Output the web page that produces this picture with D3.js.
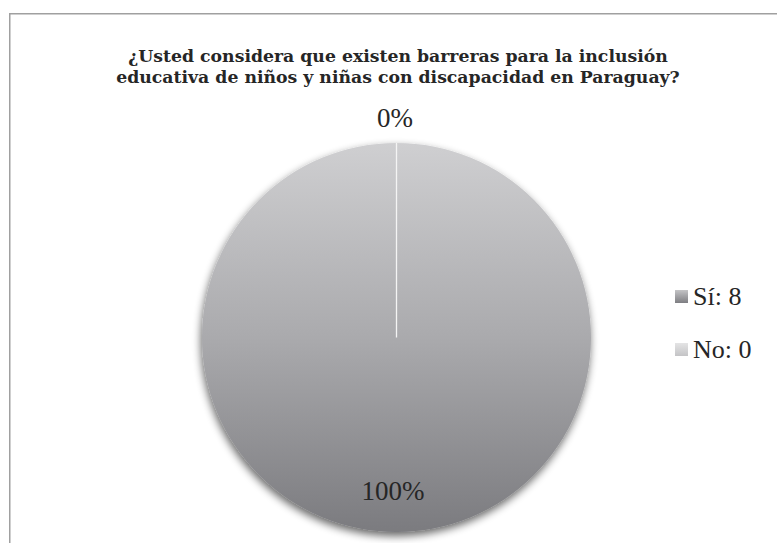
<!doctype html>
<html>
<head>
    <style>
        body { margin: 0; background: #fff; }
        svg text { font-family: "Liberation Serif", "DejaVu Serif", serif; fill: #262626; }
        .title { font-family: "DejaVu Serif", serif; font-weight: bold; }
    </style>
    <script src="https://d3js.org/d3.v7.min.js"></script>
</head>
<body>
    <svg width="777" height="543"></svg>
    <script>
        var categories = ["Sí", "No"];
        var values = [8, 0];
        var titleLines = ["¿Usted considera que existen barreras para la inclusión",
                          "educativa de niños y niñas con discapacidad en Paraguay?"];

        var svg = d3.select("svg"),
            cx = 396.5,
            cy = 337.5,
            radius = 194.5;

        var defs = svg.append("defs");

        // gradient in the pie group's coordinates (centre at 0,0)
        var grad = defs.append("linearGradient")
            .attr("id", "pieGrad")
            .attr("gradientUnits", "userSpaceOnUse")
            .attr("x1", 0).attr("y1", -radius)
            .attr("x2", 0).attr("y2", radius);
        grad.append("stop").attr("offset", "0%").attr("stop-color", "#cfcfd1");
        grad.append("stop").attr("offset", "50%").attr("stop-color", "#aaaaad");
        grad.append("stop").attr("offset", "100%").attr("stop-color", "#7b7b7f");

        var legGrad1 = defs.append("linearGradient")
            .attr("id", "leg1").attr("x1", 0).attr("y1", 0).attr("x2", 0).attr("y2", 1);
        legGrad1.append("stop").attr("offset", "0%").attr("stop-color", "#c4c4c6");
        legGrad1.append("stop").attr("offset", "100%").attr("stop-color", "#7e7e82");

        var legGrad2 = defs.append("linearGradient")
            .attr("id", "leg2").attr("x1", 0).attr("y1", 0).attr("x2", 0).attr("y2", 1);
        legGrad2.append("stop").attr("offset", "0%").attr("stop-color", "#e4e4e5");
        legGrad2.append("stop").attr("offset", "100%").attr("stop-color", "#c4c4c6");

        var shadow = defs.append("filter")
            .attr("id", "shadow")
            .attr("x", "-20%").attr("y", "-20%")
            .attr("width", "140%").attr("height", "140%");
        shadow.append("feGaussianBlur").attr("in", "SourceAlpha").attr("stdDeviation", 4);
        shadow.append("feOffset").attr("dx", -1).attr("dy", 4).attr("result", "off");
        shadow.append("feComponentTransfer").append("feFuncA").attr("type", "linear").attr("slope", 0.6);
        var merge = shadow.append("feMerge");
        merge.append("feMergeNode");
        merge.append("feMergeNode").attr("in", "SourceGraphic");

        // chart border (runs off the right and bottom edges)
        svg.append("rect")
           .attr("x", 9.75)
           .attr("y", 13.75)
           .attr("width", 800)
           .attr("height", 600)
           .attr("fill", "none")
           .attr("stroke", "#a0a0a0")
           .attr("stroke-width", 1.5);

        // title
        var title = svg.append("text")
           .attr("class", "title")
           .attr("text-anchor", "middle")
           .attr("font-size", "17px");
        title.selectAll("tspan")
           .data(titleLines)
           .enter().append("tspan")
           .attr("x", 398)
           .attr("y", function(d, i) { return 62 + i * 21; })
           .text(function(d) { return d; });
        var w = title.select("tspan").node().getComputedTextLength();
        title.attr("font-size", Math.min(18, 17 * 540 / w) + "px");

        var data = categories.map(function(c, i) { return { name: c, value: values[i] }; });
        var pie = d3.pie().sort(null).value(function(d) { return d.value; });
        var arcs = pie(data);
        var arc = d3.arc().innerRadius(0).outerRadius(radius);
        var total = d3.sum(values);

        var g = svg.append("g")
           .attr("transform", "translate(" + cx + "," + cy + ")");

        var slices = g.append("g").attr("filter", "url(#shadow)");
        slices.selectAll("path.slice")
         .data(arcs.filter(function(d) { return d.endAngle > d.startAngle; }))
         .enter().append("path")
         .attr("class", "slice")
         .attr("d", arc)
         .attr("fill", "url(#pieGrad)");
        // zero-sized slice shows as a thin white radius
        slices.selectAll("line")
         .data(arcs.filter(function(d) { return d.endAngle === d.startAngle; }))
         .enter().append("line")
         .attr("x1", 0).attr("y1", 0)
         .attr("x2", function(d) { return radius * Math.sin(d.startAngle); })
         .attr("y2", function(d) { return -radius * Math.cos(d.startAngle); })
         .attr("stroke", "#f4f4f4")
         .attr("stroke-width", 1.3);

        // percent labels
        svg.append("text")
           .attr("x", 395).attr("y", 127)
           .attr("text-anchor", "middle")
           .attr("font-size", "27px")
           .text(Math.round(values[1] / total * 100) + "%");
        svg.append("text")
           .attr("x", 393).attr("y", 500)
           .attr("text-anchor", "middle")
           .attr("font-size", "27px")
           .text(Math.round(values[0] / total * 100) + "%");

        // legend
        var legend = svg.append("g")
           .selectAll("g")
           .data(data)
           .enter().append("g")
           .attr("transform", function(d, i) { return "translate(675," + (290 + i * 53) + ")"; });
        legend.append("rect")
           .attr("width", 13).attr("height", 13)
           .attr("fill", function(d, i) { return i === 0 ? "url(#leg1)" : "url(#leg2)"; });
        legend.append("text")
           .attr("x", 18).attr("y", 15)
           .attr("font-size", "26px")
           .text(function(d) { return d.name + ": " + d.value; });
    </script>
</body>
</html>
